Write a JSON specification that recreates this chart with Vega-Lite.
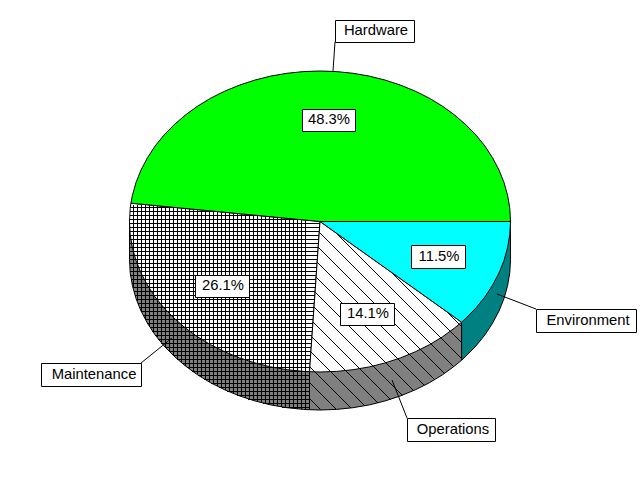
{"$schema":"https://vega.github.io/schema/vega-lite/v6.json","width":640,"height":480,"padding":0,"autosize":"none","background":"white","config":{"view":{"stroke":null},"axis":{"disable":true}},
"datasets":{
"faces":[
{"part":"Maintenance wall","i":0,"x":129.5,"y":221.5},{"part":"Maintenance wall","i":1,"x":129.5,"y":259.5},{"part":"Maintenance wall","i":2,"x":130.2,"y":272.6},{"part":"Maintenance wall","i":3,"x":132.4,"y":285.6},{"part":"Maintenance wall","i":4,"x":136,"y":298.5},{"part":"Maintenance wall","i":5,"x":141,"y":311},{"part":"Maintenance wall","i":6,"x":147.4,"y":323.1},{"part":"Maintenance wall","i":7,"x":155,"y":334.8},{"part":"Maintenance wall","i":8,"x":163.9,"y":345.8},{"part":"Maintenance wall","i":9,"x":174.1,"y":356.2},{"part":"Maintenance wall","i":10,"x":185.3,"y":365.9},{"part":"Maintenance wall","i":11,"x":197.5,"y":374.8},{"part":"Maintenance wall","i":12,"x":210.7,"y":382.8},{"part":"Maintenance wall","i":13,"x":224.7,"y":389.8},{"part":"Maintenance wall","i":14,"x":239.5,"y":395.9},{"part":"Maintenance wall","i":15,"x":254.8,"y":400.9},{"part":"Maintenance wall","i":16,"x":270.7,"y":404.9},{"part":"Maintenance wall","i":17,"x":286.9,"y":407.7},{"part":"Maintenance wall","i":18,"x":303.4,"y":409.4},{"part":"Maintenance wall","i":19,"x":309.5,"y":409.7},{"part":"Maintenance wall","i":20,"x":309.5,"y":371.7},{"part":"Maintenance wall","i":21,"x":129.5,"y":221.5},
{"part":"Operations wall","i":0,"x":309.5,"y":371.7},{"part":"Operations wall","i":1,"x":309.5,"y":409.7},{"part":"Operations wall","i":2,"x":320,"y":410},{"part":"Operations wall","i":3,"x":336.6,"y":409.4},{"part":"Operations wall","i":4,"x":353.1,"y":407.7},{"part":"Operations wall","i":5,"x":369.3,"y":404.9},{"part":"Operations wall","i":6,"x":385.2,"y":400.9},{"part":"Operations wall","i":7,"x":400.5,"y":395.9},{"part":"Operations wall","i":8,"x":415.3,"y":389.8},{"part":"Operations wall","i":9,"x":429.3,"y":382.8},{"part":"Operations wall","i":10,"x":442.5,"y":374.8},{"part":"Operations wall","i":11,"x":454.7,"y":365.9},{"part":"Operations wall","i":12,"x":461.6,"y":360.2},{"part":"Operations wall","i":13,"x":461.6,"y":322.2},{"part":"Operations wall","i":14,"x":309.5,"y":371.7},
{"part":"Environment wall","i":0,"x":461.6,"y":322.2},{"part":"Environment wall","i":1,"x":461.6,"y":360.2},{"part":"Environment wall","i":2,"x":465.9,"y":356.2},{"part":"Environment wall","i":3,"x":476.1,"y":345.8},{"part":"Environment wall","i":4,"x":485,"y":334.8},{"part":"Environment wall","i":5,"x":492.6,"y":323.1},{"part":"Environment wall","i":6,"x":499,"y":311},{"part":"Environment wall","i":7,"x":504,"y":298.5},{"part":"Environment wall","i":8,"x":507.6,"y":285.6},{"part":"Environment wall","i":9,"x":509.8,"y":272.6},{"part":"Environment wall","i":10,"x":510.5,"y":259.5},{"part":"Environment wall","i":11,"x":510.5,"y":221.5},{"part":"Environment wall","i":12,"x":461.6,"y":322.2},
{"part":"Maintenance","i":0,"x":320,"y":221.5},{"part":"Maintenance","i":1,"x":130.9,"y":203.2},{"part":"Maintenance","i":2,"x":130.2,"y":208.4},{"part":"Maintenance","i":3,"x":129.5,"y":221.5},{"part":"Maintenance","i":4,"x":130.2,"y":234.6},{"part":"Maintenance","i":5,"x":132.4,"y":247.6},{"part":"Maintenance","i":6,"x":136,"y":260.5},{"part":"Maintenance","i":7,"x":141,"y":273},{"part":"Maintenance","i":8,"x":147.4,"y":285.1},{"part":"Maintenance","i":9,"x":155,"y":296.8},{"part":"Maintenance","i":10,"x":163.9,"y":307.8},{"part":"Maintenance","i":11,"x":174.1,"y":318.2},{"part":"Maintenance","i":12,"x":185.3,"y":327.9},{"part":"Maintenance","i":13,"x":197.5,"y":336.8},{"part":"Maintenance","i":14,"x":210.7,"y":344.8},{"part":"Maintenance","i":15,"x":224.7,"y":351.8},{"part":"Maintenance","i":16,"x":239.5,"y":357.9},{"part":"Maintenance","i":17,"x":254.8,"y":362.9},{"part":"Maintenance","i":18,"x":270.7,"y":366.9},{"part":"Maintenance","i":19,"x":286.9,"y":369.7},{"part":"Maintenance","i":20,"x":303.4,"y":371.4},{"part":"Maintenance","i":21,"x":309.5,"y":371.7},{"part":"Maintenance","i":22,"x":320,"y":221.5},
{"part":"Operations","i":0,"x":320,"y":221.5},{"part":"Operations","i":1,"x":309.5,"y":371.7},{"part":"Operations","i":2,"x":320,"y":372},{"part":"Operations","i":3,"x":336.6,"y":371.4},{"part":"Operations","i":4,"x":353.1,"y":369.7},{"part":"Operations","i":5,"x":369.3,"y":366.9},{"part":"Operations","i":6,"x":385.2,"y":362.9},{"part":"Operations","i":7,"x":400.5,"y":357.9},{"part":"Operations","i":8,"x":415.3,"y":351.8},{"part":"Operations","i":9,"x":429.3,"y":344.8},{"part":"Operations","i":10,"x":442.5,"y":336.8},{"part":"Operations","i":11,"x":454.7,"y":327.9},{"part":"Operations","i":12,"x":461.6,"y":322.2},{"part":"Operations","i":13,"x":320,"y":221.5},
{"part":"Hardware","i":0,"x":320,"y":221.5},{"part":"Hardware","i":1,"x":510.5,"y":221.5},{"part":"Hardware","i":2,"x":509.8,"y":208.4},{"part":"Hardware","i":3,"x":507.6,"y":195.4},{"part":"Hardware","i":4,"x":504,"y":182.5},{"part":"Hardware","i":5,"x":499,"y":170},{"part":"Hardware","i":6,"x":492.6,"y":157.9},{"part":"Hardware","i":7,"x":485,"y":146.2},{"part":"Hardware","i":8,"x":476.1,"y":135.2},{"part":"Hardware","i":9,"x":465.9,"y":124.8},{"part":"Hardware","i":10,"x":454.7,"y":115.1},{"part":"Hardware","i":11,"x":442.5,"y":106.2},{"part":"Hardware","i":12,"x":429.3,"y":98.2},{"part":"Hardware","i":13,"x":415.3,"y":91.2},{"part":"Hardware","i":14,"x":400.5,"y":85.1},{"part":"Hardware","i":15,"x":385.2,"y":80.1},{"part":"Hardware","i":16,"x":369.3,"y":76.1},{"part":"Hardware","i":17,"x":353.1,"y":73.3},{"part":"Hardware","i":18,"x":336.6,"y":71.6},{"part":"Hardware","i":19,"x":320,"y":71},{"part":"Hardware","i":20,"x":303.4,"y":71.6},{"part":"Hardware","i":21,"x":286.9,"y":73.3},{"part":"Hardware","i":22,"x":270.7,"y":76.1},{"part":"Hardware","i":23,"x":254.8,"y":80.1},{"part":"Hardware","i":24,"x":239.5,"y":85.1},{"part":"Hardware","i":25,"x":224.7,"y":91.2},{"part":"Hardware","i":26,"x":210.7,"y":98.2},{"part":"Hardware","i":27,"x":197.5,"y":106.2},{"part":"Hardware","i":28,"x":185.3,"y":115.1},{"part":"Hardware","i":29,"x":174.1,"y":124.8},{"part":"Hardware","i":30,"x":163.9,"y":135.2},{"part":"Hardware","i":31,"x":155,"y":146.2},{"part":"Hardware","i":32,"x":147.4,"y":157.9},{"part":"Hardware","i":33,"x":141,"y":170},{"part":"Hardware","i":34,"x":136,"y":182.5},{"part":"Hardware","i":35,"x":132.4,"y":195.4},{"part":"Hardware","i":36,"x":130.9,"y":203.2},{"part":"Hardware","i":37,"x":320,"y":221.5},
{"part":"Environment","i":0,"x":320,"y":221.5},{"part":"Environment","i":1,"x":461.6,"y":322.2},{"part":"Environment","i":2,"x":465.9,"y":318.2},{"part":"Environment","i":3,"x":476.1,"y":307.8},{"part":"Environment","i":4,"x":485,"y":296.8},{"part":"Environment","i":5,"x":492.6,"y":285.1},{"part":"Environment","i":6,"x":499,"y":273},{"part":"Environment","i":7,"x":504,"y":260.5},{"part":"Environment","i":8,"x":507.6,"y":247.6},{"part":"Environment","i":9,"x":509.8,"y":234.6},{"part":"Environment","i":10,"x":510.5,"y":221.5},{"part":"Environment","i":11,"x":320,"y":221.5}
],
"gridV":[{"x":133.5,"y":205,"y2":288},{"x":137.5,"y":205,"y2":301},{"x":141.5,"y":205,"y2":311},{"x":145.5,"y":205,"y2":319},{"x":149.5,"y":205,"y2":326},{"x":153.5,"y":205,"y2":332},{"x":157.5,"y":205,"y2":337},{"x":161.5,"y":205,"y2":342},{"x":165.5,"y":205,"y2":347},{"x":169.5,"y":205,"y2":351},{"x":173.5,"y":205,"y2":355},{"x":177.5,"y":205,"y2":359},{"x":181.5,"y":205,"y2":362},{"x":185.5,"y":205,"y2":366},{"x":189.5,"y":205,"y2":369},{"x":193.5,"y":205,"y2":372},{"x":197.5,"y":205,"y2":374},{"x":201.5,"y":205,"y2":377},{"x":205.5,"y":205,"y2":379},{"x":209.5,"y":205,"y2":382},{"x":213.5,"y":205,"y2":384},{"x":217.5,"y":205,"y2":386},{"x":221.5,"y":205,"y2":388},{"x":225.5,"y":205,"y2":390},{"x":229.5,"y":205,"y2":392},{"x":233.5,"y":205,"y2":393},{"x":237.5,"y":205,"y2":395},{"x":241.5,"y":205,"y2":396},{"x":245.5,"y":205,"y2":398},{"x":249.5,"y":205,"y2":399},{"x":253.5,"y":205,"y2":400},{"x":257.5,"y":205,"y2":401},{"x":261.5,"y":205,"y2":402},{"x":265.5,"y":205,"y2":403},{"x":269.5,"y":205,"y2":404},{"x":273.5,"y":205,"y2":405},{"x":277.5,"y":205,"y2":406},{"x":281.5,"y":205,"y2":407},{"x":285.5,"y":205,"y2":407},{"x":289.5,"y":205,"y2":408},{"x":293.5,"y":205,"y2":408},{"x":297.5,"y":205,"y2":409},{"x":301.5,"y":205,"y2":409},{"x":305.5,"y":205,"y2":409}],
"gridH":[{"y":207.5,"x":130,"x2":320},{"y":211.5,"x":130,"x2":320},{"y":215.5,"x":130,"x2":320},{"y":219.5,"x":130,"x2":320},{"y":223.5,"x":130,"x2":320},{"y":227.5,"x":130,"x2":320},{"y":231.5,"x":130,"x2":319},{"y":235.5,"x":130,"x2":319},{"y":239.5,"x":130,"x2":319},{"y":243.5,"x":130,"x2":318},{"y":247.5,"x":130,"x2":318},{"y":251.5,"x":130,"x2":318},{"y":255.5,"x":130,"x2":318},{"y":259.5,"x":130,"x2":317},{"y":263.5,"x":130,"x2":317},{"y":267.5,"x":130,"x2":317},{"y":271.5,"x":130,"x2":316},{"y":275.5,"x":130,"x2":316},{"y":279.5,"x":131,"x2":316},{"y":283.5,"x":132,"x2":316},{"y":287.5,"x":133,"x2":315},{"y":291.5,"x":134,"x2":315},{"y":295.5,"x":135,"x2":315},{"y":299.5,"x":136,"x2":315},{"y":303.5,"x":138,"x2":314},{"y":307.5,"x":139,"x2":314},{"y":311.5,"x":141,"x2":314},{"y":315.5,"x":143,"x2":313},{"y":319.5,"x":145,"x2":313},{"y":323.5,"x":147,"x2":313},{"y":327.5,"x":150,"x2":313},{"y":331.5,"x":152,"x2":312},{"y":335.5,"x":155,"x2":312},{"y":339.5,"x":158,"x2":312},{"y":343.5,"x":161,"x2":311},{"y":347.5,"x":165,"x2":311},{"y":351.5,"x":169,"x2":311},{"y":355.5,"x":173,"x2":311},{"y":359.5,"x":177,"x2":310},{"y":363.5,"x":182,"x2":310},{"y":367.5,"x":187,"x2":310},{"y":371.5,"x":192,"x2":309},{"y":375.5,"x":198,"x2":309},{"y":379.5,"x":204,"x2":309},{"y":383.5,"x":211,"x2":309},{"y":387.5,"x":219,"x2":309},{"y":391.5,"x":227,"x2":309},{"y":395.5,"x":237,"x2":309},{"y":399.5,"x":248,"x2":309},{"y":403.5,"x":263,"x2":309},{"y":407.5,"x":282,"x2":309}],
"hatch":[{"x":447,"y":312,"x2":461,"y2":326},{"x":391.4,"y":272.4,"x2":461,"y2":342},{"x":335.7,"y":232.7,"x2":461,"y2":358},{"x":319.2,"y":232.2,"x2":453.7,"y2":366.7},{"x":318.2,"y":247.2,"x2":444.5,"y2":373.5},{"x":317.2,"y":262.2,"x2":434.7,"y2":379.7},{"x":316.1,"y":277.1,"x2":424.4,"y2":385.4},{"x":315.1,"y":292.1,"x2":413.6,"y2":390.6},{"x":314,"y":307,"x2":402.3,"y2":395.3},{"x":313,"y":322,"x2":390.4,"y2":399.4},{"x":311.9,"y":336.9,"x2":378,"y2":403},{"x":310.9,"y":351.9,"x2":364.8,"y2":405.8},{"x":309.9,"y":366.9,"x2":351,"y2":408},{"x":309.5,"y":382.5,"x2":336,"y2":409},{"x":309.5,"y":398.5,"x2":320.5,"y2":409.5}],
"leaders":[{"x":335,"y":42,"x2":333,"y2":71},{"x":141,"y":363,"x2":172,"y2":338},{"x":536,"y":309,"x2":497,"y2":294},{"x":407,"y":418,"x2":392,"y2":380}],
"labels":[{"text":"Hardware","x":376,"y":31,"left":335.5,"right":414.5,"top":20.5,"bottom":42.5},{"text":"48.3%","x":329,"y":120,"left":302.5,"right":355.5,"top":109.5,"bottom":131.5},{"text":"26.1%","x":223,"y":286,"left":195.5,"right":249.5,"top":275.5,"bottom":297.5},{"text":"14.1%","x":368,"y":314,"left":340.5,"right":394.5,"top":303.5,"bottom":325.5},{"text":"11.5%","x":439,"y":257,"left":411.5,"right":465.5,"top":245.5,"bottom":268.5},{"text":"Maintenance","x":94,"y":375,"left":41.5,"right":141.5,"top":363.5,"bottom":386.5},{"text":"Environment","x":588,"y":320.5,"left":536.5,"right":636.5,"top":309.5,"bottom":332.5},{"text":"Operations","x":453,"y":430,"left":407.5,"right":495.5,"top":418.5,"bottom":441.5}]
},
"layer":[
{"data":{"name":"faces"},"transform":[{"filter":{"field":"part","oneOf":["Maintenance wall","Operations wall","Environment wall"]}}],"mark":{"type":"line","stroke":"black","strokeWidth":1},"encoding":{"x":{"field":"x","type":"quantitative","scale":{"domain":[0,640],"nice":false,"zero":false}},"y":{"field":"y","type":"quantitative","scale":{"domain":[0,480],"reverse":true,"nice":false,"zero":false}},"order":{"field":"i","type":"quantitative"},"fill":{"field":"part","type":"nominal","legend":null,"scale":{"domain":["Maintenance wall","Operations wall","Environment wall","Maintenance","Operations","Hardware","Environment"],"range":["#808080","#808080","#008080","#ffffff","#ffffff","#00ff00","#00ffff"]}}}},
{"data":{"name":"faces"},"transform":[{"filter":{"field":"part","oneOf":["Maintenance","Operations"]}}],"mark":{"type":"line","stroke":"black","strokeWidth":1},"encoding":{"x":{"field":"x","type":"quantitative"},"y":{"field":"y","type":"quantitative"},"order":{"field":"i","type":"quantitative"},"fill":{"field":"part","type":"nominal","legend":null}}},
{"data":{"name":"gridV"},"mark":{"type":"rule","color":"black","strokeWidth":1},"encoding":{"x":{"field":"x","type":"quantitative"},"y":{"field":"y","type":"quantitative"},"y2":{"field":"y2"}}},
{"data":{"name":"gridH"},"mark":{"type":"rule","color":"black","strokeWidth":1},"encoding":{"y":{"field":"y","type":"quantitative"},"x":{"field":"x","type":"quantitative"},"x2":{"field":"x2"}}},
{"data":{"name":"hatch"},"mark":{"type":"rule","color":"black","strokeWidth":1},"encoding":{"x":{"field":"x","type":"quantitative"},"y":{"field":"y","type":"quantitative"},"x2":{"field":"x2"},"y2":{"field":"y2"}}},
{"data":{"name":"faces"},"transform":[{"filter":{"field":"part","oneOf":["Hardware","Environment"]}}],"mark":{"type":"line","stroke":"black","strokeWidth":1},"encoding":{"x":{"field":"x","type":"quantitative"},"y":{"field":"y","type":"quantitative"},"order":{"field":"i","type":"quantitative"},"fill":{"field":"part","type":"nominal","legend":null}}},
{"data":{"name":"leaders"},"mark":{"type":"rule","color":"black","strokeWidth":1},"encoding":{"x":{"field":"x","type":"quantitative"},"y":{"field":"y","type":"quantitative"},"x2":{"field":"x2"},"y2":{"field":"y2"}}},
{"data":{"name":"labels"},"mark":{"type":"rect","fill":"white","stroke":"black","strokeWidth":1},"encoding":{"x":{"field":"left","type":"quantitative"},"x2":{"field":"right"},"y":{"field":"top","type":"quantitative"},"y2":{"field":"bottom"}}},
{"data":{"name":"labels"},"mark":{"type":"text","font":"Liberation Sans","fontSize":14.8,"align":"center","baseline":"middle","color":"black"},"encoding":{"x":{"field":"x","type":"quantitative"},"y":{"field":"y","type":"quantitative"},"text":{"field":"text"}}}
]}
